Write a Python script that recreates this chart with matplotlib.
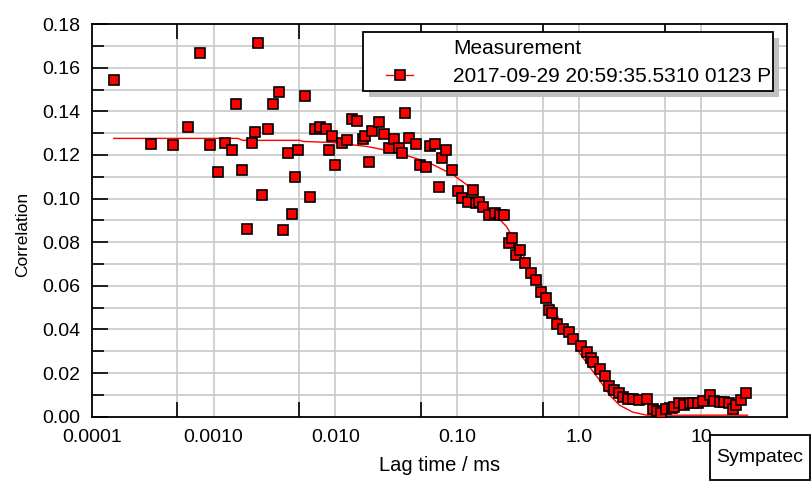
import numpy as np
import matplotlib
matplotlib.use("Agg")
import matplotlib.pyplot as plt
from matplotlib.lines import Line2D
from matplotlib.patches import Rectangle
from matplotlib.ticker import FixedLocator, NullFormatter, FormatStrFormatter

plt.rcParams['font.family'] = ['Liberation Sans', 'DejaVu Sans']

# measured correlation (lag time in ms)
lag = [0.000152, 0.000306, 0.000464, 0.000615, 0.000772, 0.000933, 0.001084, 0.001238,
       0.001413, 0.001524, 0.001706, 0.001875, 0.002061, 0.002182, 0.002310, 0.002491,
       0.002790, 0.003064, 0.003430, 0.003698, 0.004064, 0.004383, 0.004637, 0.004909,
       0.005600, 0.006153, 0.006761, 0.007431, 0.008318, 0.008810, 0.009333, 0.009866,
       0.01127, 0.01239, 0.01361, 0.01496, 0.01675, 0.01738, 0.01875, 0.01986,
       0.02265, 0.02489, 0.02735, 0.03006, 0.03304, 0.03493, 0.03698, 0.03990,
       0.04550, 0.04909, 0.05495, 0.05929, 0.06516, 0.07430, 0.08017, 0.07031,
       0.08977, 0.1005, 0.1084, 0.1213, 0.1334, 0.1413, 0.1496, 0.1611,
       0.1806, 0.2022, 0.2222, 0.2398, 0.2636, 0.2788, 0.3008, 0.3243,
       0.3565, 0.3991, 0.4385, 0.4819, 0.5297, 0.5600, 0.5929, 0.6516,
       0.7295, 0.8166, 0.8810, 1.025, 1.148, 1.238, 1.285, 1.466,
       1.611, 1.738, 1.911, 2.101, 2.265, 2.489, 2.735, 3.062,
       3.562, 3.990, 4.307, 4.645, 5.097, 5.715, 5.930, 6.516,
       7.161, 8.017, 8.488, 9.333, 10.26, 11.70, 12.62, 14.13,
       15.52, 16.75, 18.06, 19.47, 21.38, 23.50]
corr = [0.1543, 0.1248, 0.1244, 0.1326, 0.1667, 0.1244, 0.1124, 0.1257,
        0.1221, 0.1432, 0.1133, 0.0862, 0.1257, 0.1303, 0.1713, 0.1018,
        0.1317, 0.1432, 0.1487, 0.0857, 0.1211, 0.0931, 0.1101, 0.1225,
        0.1469, 0.1009, 0.1317, 0.1326, 0.1317, 0.1221, 0.1285, 0.1156,
        0.1257, 0.1267, 0.1363, 0.1354, 0.1271, 0.1285, 0.1170, 0.1308,
        0.1349, 0.1294, 0.1234, 0.1271, 0.1234, 0.1211, 0.1391, 0.1280,
        0.1248, 0.1156, 0.1147, 0.1239, 0.1248, 0.1184, 0.1221, 0.1054,
        0.1129, 0.1037, 0.1004, 0.0986, 0.1041, 0.0982, 0.0986, 0.0963,
        0.0926, 0.0936, 0.0926, 0.0926, 0.0798, 0.0821, 0.0743, 0.0766,
        0.0706, 0.0660, 0.0628, 0.0572, 0.0545, 0.0490, 0.0476, 0.0425,
        0.0402, 0.0389, 0.0356, 0.0324, 0.0297, 0.0269, 0.0251, 0.0219,
        0.0186, 0.0140, 0.0122, 0.0108, 0.0090, 0.0081, 0.0081, 0.0076,
        0.0081, 0.0034, 0.0025, 0.0016, 0.0034, 0.0039, 0.0044, 0.0062,
        0.0053, 0.0062, 0.0062, 0.0062, 0.0071, 0.0099, 0.0071, 0.0067,
        0.0067, 0.0062, 0.0034, 0.0053, 0.0076, 0.0108]

# fitted curve
fit_lag = [0.000152, 0.001582, 0.001738, 0.005097, 0.005395, 0.009506, 0.01309, 0.01805,
           0.02951, 0.04909, 0.06281, 0.09162, 0.1191, 0.1611, 0.2535, 0.3917,
           0.5395, 0.7295, 0.8810, 1.005, 1.213, 1.466, 1.770, 2.138,
           2.735, 3.562, 23.99]
fit_corr = [0.1276, 0.1276, 0.1267, 0.1267, 0.1262, 0.1257, 0.1248, 0.1239,
            0.1216, 0.1179, 0.1156, 0.1110, 0.1064, 0.0986, 0.0871, 0.0687,
            0.0568, 0.0411, 0.0361, 0.0292, 0.0228, 0.0168, 0.0099, 0.0053,
            0.0021, 0.0007, 0.0007]

x_major = [0.0001, 0.001, 0.01, 0.1, 1, 10]
x_labels = ["0.0001", "0.0010", "0.010", "0.10", "1.0", "10"]
x_grid = [0.0005, 0.001, 0.005, 0.01, 0.05, 0.1, 0.5, 1, 5, 10]

fig = plt.figure(figsize=(8.11, 4.82), dpi=100)
ax = fig.add_axes([0.113, 0.1355, 0.858, 0.8145])

ax.plot(fit_lag, fit_corr, color='red', lw=1.0, zorder=3)
ax.plot(lag, corr, ls='none', marker='s', ms=6.8, mfc='red', mec='black',
        mew=1.2, zorder=4)

ax.set_xscale('log')
ax.set_xlim(0.0001, 51)
ax.set_ylim(0, 0.18)

ax.xaxis.set_major_locator(FixedLocator(x_major))
ax.set_xticklabels(x_labels)
ax.xaxis.set_minor_locator(FixedLocator(x_grid))
ax.xaxis.set_minor_formatter(NullFormatter())
ax.tick_params(axis='x', which='major', length=0, pad=9)
ax.tick_params(axis='x', which='minor', direction='in', length=10.5,
               width=1.2, top=True, bottom=True)

ax.set_yticks(np.arange(0, 0.181, 0.02))
ax.set_yticks(np.arange(0.01, 0.18, 0.02), minor=True)
ax.yaxis.set_major_formatter(FormatStrFormatter('%.2f'))
ax.tick_params(axis='y', which='major', direction='in', length=11.5, width=1.2, pad=8)
ax.tick_params(axis='y', which='minor', direction='in', length=8.5, width=1.2)
ax.tick_params(labelsize=14, colors='black')

for v in x_grid:
    ax.axvline(v, color='#c8c8c8', lw=1.2, zorder=0)
for v in np.arange(0.01, 0.18, 0.01):
    ax.axhline(v, color='#c8c8c8', lw=1.2, zorder=0)

for s in ax.spines.values():
    s.set_linewidth(1.3)

ax.set_xlabel("Lag time / ms", fontsize=14.5, labelpad=7)
ax.set_ylabel("Correlation", fontsize=12.5)
ax.yaxis.set_label_coords(-0.088, 0.463)

# legend: frame and shadow drawn separately
handles = [Line2D([], [], ls='none'),
           Line2D([], [], color='red', lw=1.0, marker='s', ms=6.8,
                  mfc='red', mec='black', mew=1.2)]
labels = ["Measurement", "2017-09-29 20:59:35.5310 0123 P"]
leg = fig.legend(handles, labels, loc='upper left', bbox_to_anchor=(0.4708, 0.9284),
                 fontsize=15, frameon=False, handlelength=1.3, handletextpad=1.92,
                 borderpad=0.2, labelspacing=0.44, borderaxespad=0)
leg.set_zorder(7)
fig.add_artist(Rectangle((369, 385), 410, 59, transform=None,
                         facecolor='#c0c0c0', edgecolor='none', zorder=5))
fig.add_artist(Rectangle((363, 391), 410, 59, transform=None,
                         facecolor='white', edgecolor='black', lw=1.3, zorder=6))

# Sympatec stamp
fig.add_artist(Rectangle((710, 2), 100, 45, transform=None,
                         facecolor='white', edgecolor='black', lw=1.3, zorder=6))
fig.text(760 / 811, 25 / 482, "Sympatec", fontsize=14, ha='center', va='center',
         zorder=7)

fig.savefig("out.png", dpi=100)
